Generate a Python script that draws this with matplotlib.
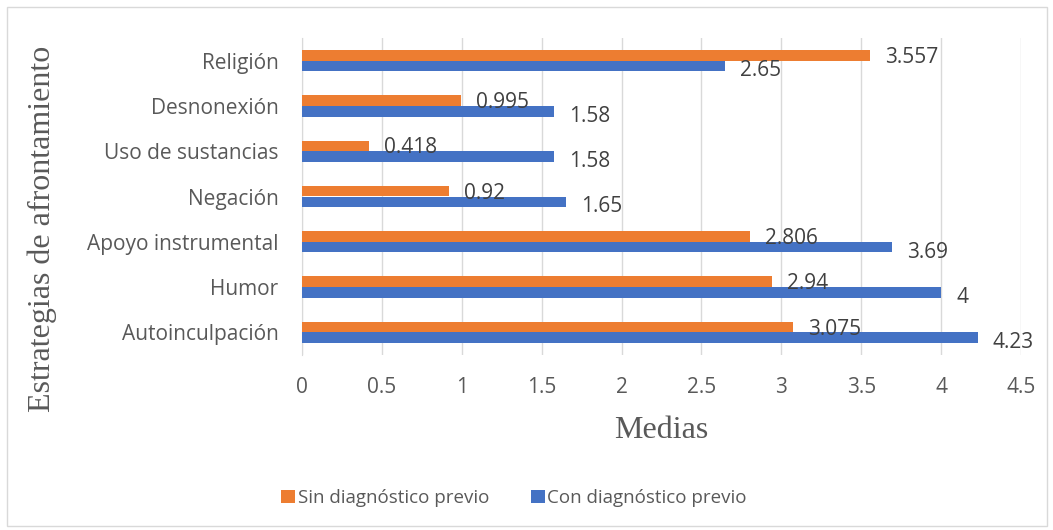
import matplotlib
matplotlib.use("Agg")
import matplotlib.pyplot as plt
import numpy as np
from matplotlib.patches import Rectangle

categories = ["Religión", "Desnonexión", "Uso de sustancias", "Negación",
              "Apoyo instrumental", "Humor", "Autoinculpación"]
sin_diag = [3.557, 0.995, 0.418, 0.92, 2.806, 2.94, 3.075]
con_diag = [2.65, 1.58, 1.58, 1.65, 3.69, 4, 4.23]
sin_labels = ["3.557", "0.995", "0.418", "0.92", "2.806", "2.94", "3.075"]
con_labels = ["2.65", "1.58", "1.58", "1.65", "3.69", "4", "4.23"]

ORANGE = "#ED7D31"
BLUE = "#4472C4"
TEXT = "#595959"
SANS = ["Open Sans", "DejaVu Sans"]
SERIF = ["Liberation Serif", "DejaVu Serif"]
FS = 15

fig = plt.figure(figsize=(10.53, 5.30), dpi=100)
ax = fig.add_axes([302 / 1053, 1 - 355 / 530, (1021 - 302) / 1053, (355 - 38) / 530])

y = np.arange(len(categories))
h = 0.235
ax.barh(y - h / 2, sin_diag, height=h, color=ORANGE, label="Sin diagnóstico previo", zorder=3)
ax.barh(y + h / 2, con_diag, height=h, color=BLUE, label="Con diagnóstico previo", zorder=3)

for yi, v, s in zip(y, sin_diag, sin_labels):
    ax.annotate(s, (v, yi - h / 2), xytext=(15, -2), textcoords="offset pixels",
                va="center", ha="left", fontsize=FS, color="#404040", family=SANS, zorder=4)
for yi, v, s in zip(y, con_diag, con_labels):
    ax.annotate(s, (v, yi + h / 2), xytext=(15, -5), textcoords="offset pixels",
                va="center", ha="left", fontsize=FS, color="#404040", family=SANS, zorder=4)

ax.set_xlim(0, 4.5)
ax.set_ylim(len(categories) - 0.5, -0.5)
ax.set_xticks(np.arange(0, 4.51, 0.5))
ax.set_xticklabels(["0", "0.5", "1", "1.5", "2", "2.5", "3", "3.5", "4", "4.5"])
ax.set_yticks(y)
ax.set_yticklabels(categories)
for lab in ax.get_xticklabels() + ax.get_yticklabels():
    lab.set_family(SANS)
    lab.set_fontsize(FS)
    lab.set_color(TEXT)
ax.tick_params(axis="x", length=0, pad=16)
ax.tick_params(axis="y", length=0, pad=17)
ax.grid(axis="x", color="#D9D9D9", linewidth=1, zorder=0)
for side in ["top", "right", "bottom"]:
    ax.spines[side].set_visible(False)
ax.spines["left"].set_color("#D9D9D9")

ax.set_xlabel("Medias", family=SERIF, fontsize=23, color=TEXT, labelpad=13)
fig.text(42 / 1053, 1 - 229 / 530, "Estrategias de afrontamiento", rotation=90,
         va="center", ha="center", family=SERIF, fontsize=23, color=TEXT)

leg = fig.legend(loc="center", bbox_to_anchor=(514 / 1053, 1 - 498 / 530), ncol=2,
                 frameon=False, handlelength=0.75, handleheight=0.75, handletextpad=0.15,
                 columnspacing=2.2, prop={"family": SANS, "size": 13.5})
for t in leg.get_texts():
    t.set_color(TEXT)

fig.patches.append(Rectangle((7 / 1053, 4 / 530), 1040 / 1053, 519 / 530,
                             transform=fig.transFigure, fill=False,
                             edgecolor="#D9D9D9", linewidth=1))

fig.savefig("out.png", dpi=100)
